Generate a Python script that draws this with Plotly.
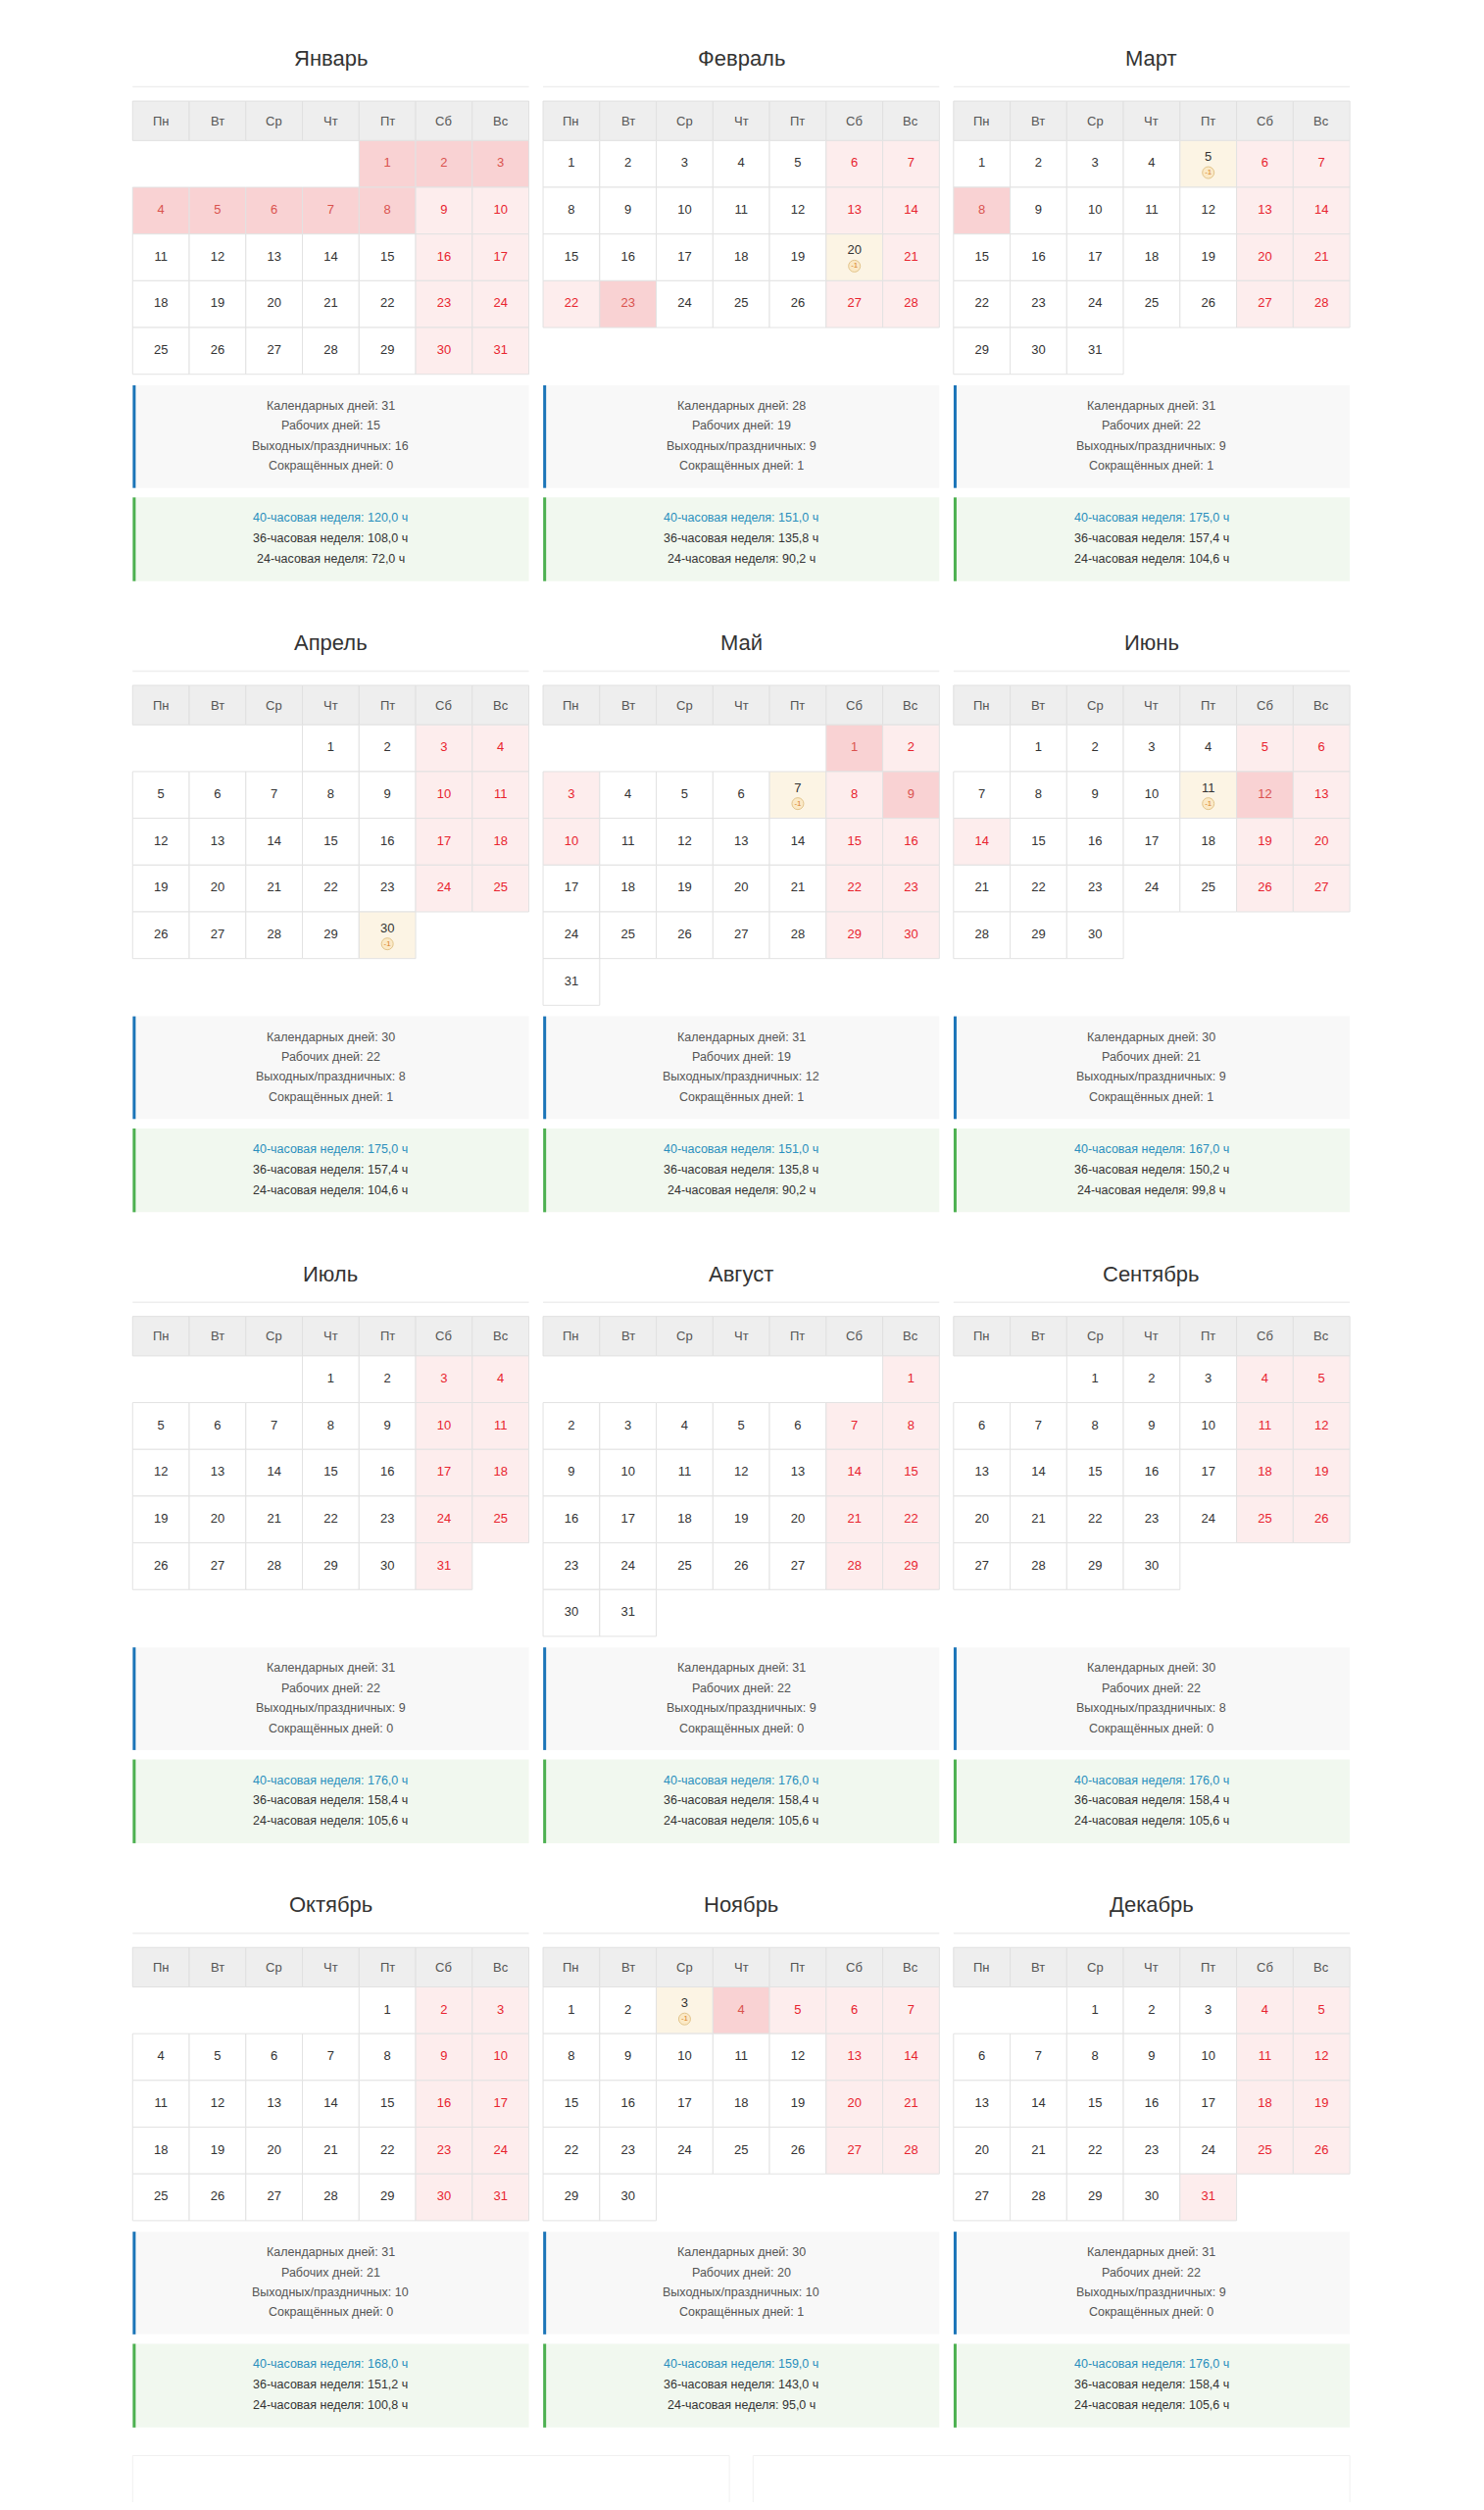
import datetime
import plotly.graph_objects as go

YEAR = 2021
month_names = ["Январь", "Февраль", "Март", "Апрель", "Май", "Июнь",
               "Июль", "Август", "Сентябрь", "Октябрь", "Ноябрь", "Декабрь"]
weekday_labels = ["Пн", "Вт", "Ср", "Чт", "Пт", "Сб", "Вс"]
days_in_month = [31, 28, 31, 30, 31, 30, 31, 31, 30, 31, 30, 31]

# holidays (dark pink), extra days off (light pink), shortened days (-1)
holidays = {1: [1, 2, 3, 4, 5, 6, 7, 8], 2: [23], 3: [8], 5: [1, 9], 6: [12], 11: [4]}
extra_off = {2: [22], 5: [2, 3, 8, 10], 6: [14], 11: [5], 12: [31]}
short_days = {2: [20], 3: [5], 4: [30], 5: [7], 6: [11], 11: [3]}

calendar_days = [31, 28, 31, 30, 31, 30, 31, 31, 30, 31, 30, 31]
work_days = [15, 19, 22, 22, 19, 21, 22, 22, 22, 21, 20, 22]
off_days = [16, 9, 9, 8, 12, 9, 9, 9, 8, 10, 10, 9]
short_count = [0, 1, 1, 1, 1, 1, 0, 0, 0, 0, 1, 0]
hours_40 = ["120,0", "151,0", "175,0", "175,0", "151,0", "167,0",
            "176,0", "176,0", "176,0", "168,0", "159,0", "176,0"]
hours_36 = ["108,0", "135,8", "157,4", "157,4", "135,8", "150,2",
            "158,4", "158,4", "158,4", "151,2", "143,0", "158,4"]
hours_24 = ["72,0", "90,2", "104,6", "104,6", "90,2", "99,8",
            "105,6", "105,6", "105,6", "100,8", "95,0", "105,6"]

# page geometry (in units of a 940px-wide page, scaled to 1514px)
S = 1514 / 940
FIG_W, FIG_H = 1498, 2544
OFF = 8 / S  # default body margin of the html page
col_x = [84, 344, 604]
block_w = 251
cell_w = block_w / 7
row_h = 29.6
head_h = 25
FONT = "Liberation Sans, Arial, sans-serif"

WORK_TXT = "#333333"
RED_TXT = "#e8242f"
HOL_TXT = "#d9534f"
WEEKEND_BG = "#fdeded"
HOLIDAY_BG = "#f9d2d3"
SHORT_BG = "#fcf4e4"
BORDER = "#e2e2e2"

shapes = []
annotations = []
txt = {"work": ([], [], []), "red": ([], [], []), "hol": ([], [], [])}
short_x, short_y, short_t = [], [], []
badge_x, badge_y = [], []


def rect(x0, y0, x1, y1, fill, line=None, width=1):
    shapes.append(dict(type="rect", xref="x", yref="y", x0=x0, y0=y0, x1=x1, y1=y1,
                       fillcolor=fill, line=dict(color=line or fill, width=width if line else 0),
                       layer="below"))


def text(x, y, s, size, color, **kw):
    annotations.append(dict(x=x, y=y, xref="x", yref="y", text=s, showarrow=False,
                            font=dict(family=FONT, size=size, color=color), **kw))


header_top = 64
for r in range(4):
    months = range(r * 3 + 1, r * 3 + 4)
    n_rows = []
    for m in months:
        first = datetime.date(YEAR, m, 1).weekday()
        n_rows.append((first + days_in_month[m - 1] + 6) // 7)
    weeks_top = header_top + head_h
    box1 = weeks_top + max(n_rows) * row_h + 7
    box2 = box1 + 71
    for k, m in enumerate(months):
        x0 = col_x[k]
        cx = x0 + block_w / 2
        text(cx, header_top - 27, month_names[m - 1], 22, "#333333")
        shapes.append(dict(type="line", xref="x", yref="y", x0=x0, x1=x0 + block_w,
                           y0=header_top - 9, y1=header_top - 9,
                           line=dict(color="#eeeeee", width=1.5)))
        for d, lab in enumerate(weekday_labels):
            rect(x0 + d * cell_w, header_top, x0 + (d + 1) * cell_w, weeks_top, "#eeeeee", "#e0e0e0")
            text(x0 + (d + 0.5) * cell_w, header_top + head_h / 2, lab, 13, "#555555")
        first = datetime.date(YEAR, m, 1).weekday()
        for day in range(1, days_in_month[m - 1] + 1):
            pos = first + day - 1
            c, w = pos % 7, pos // 7
            cx0 = x0 + c * cell_w
            cy0 = weeks_top + w * row_h
            xc, yc = cx0 + cell_w / 2, cy0 + row_h / 2
            if day in short_days.get(m, []):
                bg, kind = SHORT_BG, "short"
            elif day in holidays.get(m, []):
                bg, kind = HOLIDAY_BG, "hol"
            elif day in extra_off.get(m, []) or c >= 5:
                bg, kind = WEEKEND_BG, "red"
            else:
                bg, kind = "#ffffff", "work"
            rect(cx0, cy0, cx0 + cell_w, cy0 + row_h, bg, BORDER)
            if kind == "short":
                short_x.append(xc); short_y.append(yc - 4); short_t.append(str(day))
                badge_x.append(xc); badge_y.append(yc + 5.5)
            else:
                txt[kind][0].append(xc); txt[kind][1].append(yc); txt[kind][2].append(str(day))

        i = m - 1
        rect(x0, box1, x0 + block_w, box1 + 65, "#f8f8f8")
        shapes.append(dict(type="line", xref="x", yref="y", x0=x0 + 1, x1=x0 + 1,
                           y0=box1, y1=box1 + 65, line=dict(color="#1a74b8", width=3)))
        lines1 = [f"Календарных дней: {calendar_days[i]}", f"Рабочих дней: {work_days[i]}",
                  f"Выходных/праздничных: {off_days[i]}", f"Сокращённых дней: {short_count[i]}"]
        for j, s in enumerate(lines1):
            text(cx, box1 + 13 + j * 12.7, s, 12.5, "#555555")
        rect(x0, box2, x0 + block_w, box2 + 53, "#f1f8ef")
        shapes.append(dict(type="line", xref="x", yref="y", x0=x0 + 1, x1=x0 + 1,
                           y0=box2, y1=box2 + 53, line=dict(color="#4cb050", width=3)))
        text(cx, box2 + 13, f"40-часовая неделя: {hours_40[i]} ч", 12.5, "#2a8fbd")
        text(cx, box2 + 26, f"36-часовая неделя: {hours_36[i]} ч", 12.5, "#333333")
        text(cx, box2 + 39, f"24-часовая неделя: {hours_24[i]} ч", 12.5, "#333333")
    header_top = box2 + 53 + 66

# faint partial panels at the bottom of the page
for a, b in [(84, 462), (477, 855)]:
    shapes.append(dict(type="rect", xref="x", yref="y", x0=a, x1=b, y0=1555, y1=1600,
                       line=dict(color="#f0f0f0", width=1), fillcolor="rgba(0,0,0,0)"))

fig = go.Figure()
colors = {"work": WORK_TXT, "red": RED_TXT, "hol": HOL_TXT}
for kind, (xs, ys, ts) in txt.items():
    fig.add_trace(go.Scatter(x=xs, y=ys, text=ts, mode="text",
                             textfont=dict(family=FONT, size=13, color=colors[kind]),
                             hoverinfo="skip"))
fig.add_trace(go.Scatter(x=short_x, y=short_y, text=short_t, mode="text",
                         textfont=dict(family=FONT, size=13, color=WORK_TXT), hoverinfo="skip"))
fig.add_trace(go.Scatter(x=badge_x, y=badge_y, text=["-1"] * len(badge_x), mode="markers+text",
                         marker=dict(size=12, color="#fbe9c6", line=dict(color="#e2c48a", width=1)),
                         textfont=dict(family=FONT, size=8, color="#d9822b"), hoverinfo="skip"))

fig.update_layout(
    width=FIG_W, height=FIG_H, margin=dict(l=0, r=0, t=0, b=0),
    paper_bgcolor="white", plot_bgcolor="white", showlegend=False,
    xaxis=dict(range=[OFF, OFF + FIG_W / S], visible=False, fixedrange=True),
    yaxis=dict(range=[OFF + FIG_H / S, OFF], visible=False, fixedrange=True),
    shapes=shapes, annotations=annotations,
)
fig.write_html("out.html")
